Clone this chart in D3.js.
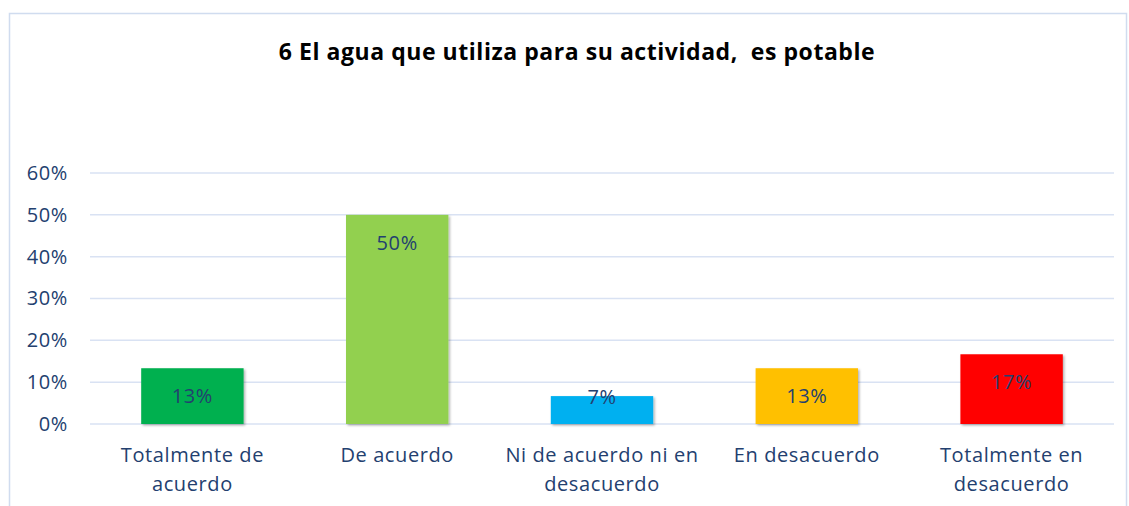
<!DOCTYPE html>
<html>
<head>
<meta charset="utf-8">
<script src="https://cdn.jsdelivr.net/npm/d3@7"></script>
<style>
  body { margin: 0; background: #fff; }
  svg { display: block; font-family: "Open Sans", sans-serif; }
  text { white-space: pre; }
</style>
</head>
<body>
<div id="chart-area"></div>
<script>

// Data
var categories = ["Totalmente de acuerdo", "De acuerdo", "Ni de acuerdo ni en desacuerdo", "En desacuerdo", "Totalmente en desacuerdo"];
var categoryLines = [["Totalmente de", "acuerdo"], ["De acuerdo"], ["Ni de acuerdo ni en", "desacuerdo"], ["En desacuerdo"], ["Totalmente en", "desacuerdo"]];
var values = [0.1333, 0.50, 0.0667, 0.1333, 0.1667];
var barColors = ["#00b050", "#92d050", "#00b0f0", "#ffc000", "#ff0000"];
var yTicks = [0, 0.1, 0.2, 0.3, 0.4, 0.5, 0.6];
var title = "6 El agua que utiliza para su actividad,  es potable";

var textColor = "#23406f";

var svg = d3.select("#chart-area").append("svg")
    .attr("width", 1129)
    .attr("height", 506);

// outer chart border
svg.append("rect")
    .attr("x", 9.5).attr("y", 13.5)
    .attr("width", 1117).attr("height", 520)
    .attr("fill", "none")
    .attr("stroke", "#d0dcef")
    .attr("stroke-width", 1.5);

svg.append("text")
    .attr("x", 577)
    .attr("y", 60)
    .attr("text-anchor", "middle")
    .attr("font-weight", "bold")
    .attr("font-size", 23)
    .attr("letter-spacing", 0.55)
    .attr("fill", "#000")
    .text(title);

var plot = {left: 90, right: 1114, top: 173, bottom: 424};

var x = d3.scaleBand()
    .domain(categories)
    .range([plot.left, plot.right])
    .paddingInner(0.5)
    .paddingOuter(0.25);

var y = d3.scaleLinear()
    .domain([0, 0.6])
    .range([plot.bottom, plot.top]);

// gridlines
svg.append("g")
    .selectAll("line")
    .data(yTicks)
    .enter().append("line")
    .attr("x1", plot.left)
    .attr("x2", plot.right)
    .attr("y1", function(d) { return y(d); })
    .attr("y2", function(d) { return y(d); })
    .attr("stroke", "#d9e2f3")
    .attr("stroke-width", 1.5);

// y axis
var yAxis = d3.axisLeft(y)
    .tickValues(yTicks)
    .tickFormat(d3.format(".0%"))
    .tickSize(0)
    .tickPadding(22);

var yg = svg.append("g")
    .attr("transform", "translate(" + plot.left + ",0)")
    .call(yAxis);
yg.select(".domain").remove();
yg.selectAll("text")
    .attr("font-size", 20)
    .attr("letter-spacing", 0.6)
    .attr("font-family", "'Open Sans', sans-serif")
    .attr("fill", textColor);

// shadow
var defs = svg.append("defs");
var f = defs.append("filter").attr("id", "shadow")
    .attr("x", "-10%").attr("y", "-10%").attr("width", "130%").attr("height", "130%");
f.append("feDropShadow")
    .attr("dx", 1.5).attr("dy", 1.5).attr("stdDeviation", 1.2)
    .attr("flood-color", "#000").attr("flood-opacity", 0.3);

// bars
svg.selectAll("rect.bar")
    .data(values)
    .enter().append("rect")
    .attr("class", "bar")
    .attr("x", function(d, i) { return x(categories[i]); })
    .attr("y", function(d) { return y(d); })
    .attr("width", x.bandwidth())
    .attr("height", function(d) { return y(0) - y(d); })
    .attr("fill", function(d, i) { return barColors[i]; })
    .attr("filter", "url(#shadow)");

// value labels
svg.selectAll("text.value")
    .data(values)
    .enter().append("text")
    .attr("class", "value")
    .attr("x", function(d, i) { return x(categories[i]) + x.bandwidth() / 2; })
    .attr("y", function(d) {
        var h = y(0) - y(d);
        return (h >= 50 ? y(d) + 28 : y(d) + 1);
    })
    .attr("dy", "0.35em")
    .attr("text-anchor", "middle")
    .attr("font-size", 20)
    .attr("letter-spacing", 0.6)
    .attr("fill", textColor)
    .text(function(d) { return Math.round(d * 100) + "%"; });

// category labels
var cat = svg.selectAll("g.cat")
    .data(categoryLines)
    .enter().append("g")
    .attr("class", "cat")
    .attr("transform", function(d, i) {
        return "translate(" + (x(categories[i]) + x.bandwidth() / 2) + ",0)";
    });

cat.selectAll("text")
    .data(function(d) { return d; })
    .enter().append("text")
    .attr("x", 0)
    .attr("y", function(d, j) { return 455 + j * 29; })
    .attr("dy", "0.35em")
    .attr("text-anchor", "middle")
    .attr("font-size", 20)
    .attr("letter-spacing", 0.6)
    .attr("fill", textColor)
    .text(function(d) { return d; });

</script>
</body>
</html>
